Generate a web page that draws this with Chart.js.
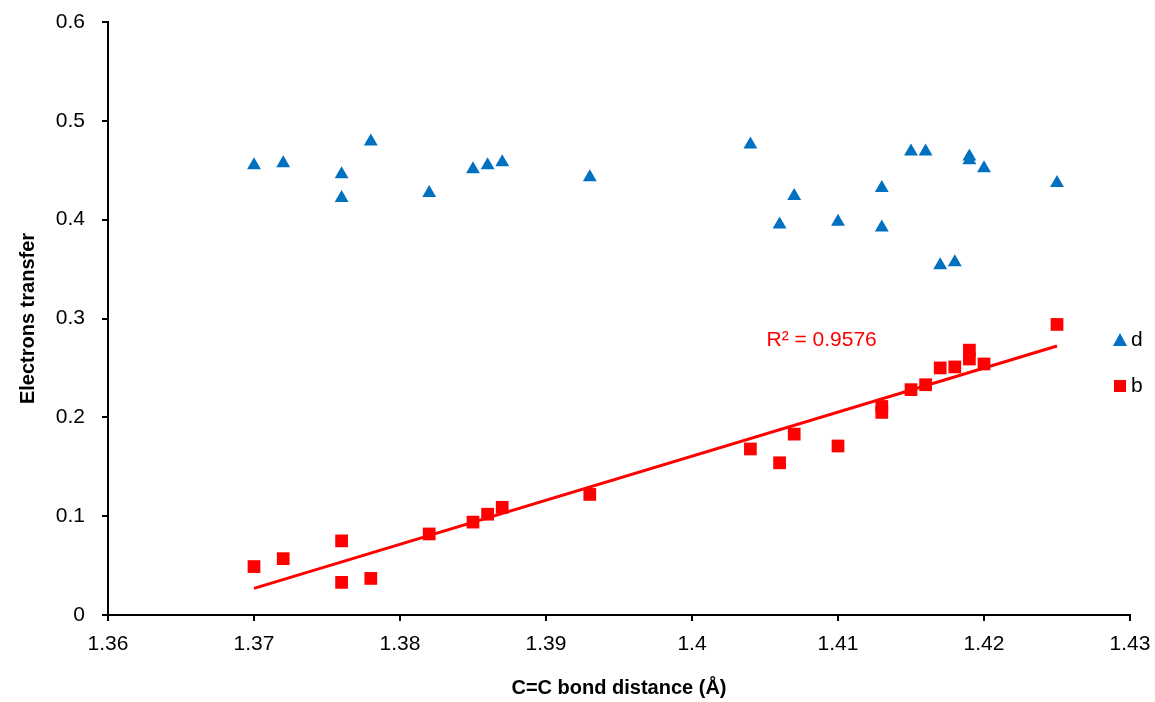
<!DOCTYPE html>
<html lang="en">
<head>
  <meta charset="UTF-8">
  <title>Electrons transfer vs C=C bond distance</title>
  <script src="https://cdn.jsdelivr.net/npm/chart.js"></script>
  <style>
    body {
      margin: 0;
      padding: 0;
      background: #fff;
    }
    #wrap {
      width: 1155px;
      height: 702px;
      position: relative;
    }
  </style>
</head>
<body>
  <div id="wrap">
    <canvas id="scatter"></canvas>
  </div>

  <script>
    // series d (triangles)
    const distD = [1.370, 1.372, 1.376, 1.376, 1.378, 1.382, 1.385, 1.386, 1.387, 1.393, 1.404, 1.406,
                   1.407, 1.410, 1.413, 1.413, 1.415, 1.416, 1.417, 1.418, 1.419, 1.419, 1.420, 1.425];
    const valD  = [0.455, 0.457, 0.446, 0.422, 0.479, 0.427, 0.451, 0.455, 0.458, 0.443, 0.476, 0.395,
                   0.424, 0.398, 0.432, 0.392, 0.469, 0.469, 0.354, 0.357, 0.464, 0.460, 0.452, 0.437];

    // series b (squares)
    const distB = [1.370, 1.372, 1.376, 1.376, 1.378, 1.382, 1.385, 1.386, 1.387, 1.393, 1.404, 1.406,
                   1.407, 1.410, 1.413, 1.413, 1.415, 1.416, 1.417, 1.418, 1.419, 1.419, 1.420, 1.425];
    const valB  = [0.049, 0.057, 0.075, 0.033, 0.037, 0.082, 0.094, 0.102, 0.109, 0.122, 0.168, 0.154,
                   0.183, 0.171, 0.211, 0.205, 0.228, 0.233, 0.250, 0.251, 0.268, 0.259, 0.254, 0.294];

    const xTicks = [1.36, 1.37, 1.38, 1.39, 1.40, 1.41, 1.42, 1.43];
    const yTicks = [0, 0.1, 0.2, 0.3, 0.4, 0.5, 0.6];
    const r2Label = 'R\u00b2 = 0.9576';

    // least squares line for series b
    function linearFit(xs, ys) {
      const n = xs.length;
      const mx = xs.reduce((a, b) => a + b, 0) / n;
      const my = ys.reduce((a, b) => a + b, 0) / n;
      let sxy = 0, sxx = 0;
      for (let i = 0; i < n; i++) {
        sxy += (xs[i] - mx) * (ys[i] - my);
        sxx += (xs[i] - mx) * (xs[i] - mx);
      }
      const slope = sxy / sxx;
      return { slope: slope, intercept: my - slope * mx };
    }
    const fit = linearFit(distB, valB);
    const xMin = Math.min(...distB), xMax = Math.max(...distB);
    const trendPts = [xMin, xMax].map(x => ({ x: x, y: fit.slope * x + fit.intercept }));

    const toPts = (xs, ys) => xs.map((x, i) => ({ x: x, y: ys[i] }));

    const FONT = "'Liberation Sans', Arial, sans-serif";

    // axis titles, R² text and the small legend on the right
    const extras = {
      id: 'extras',
      afterDraw(chart) {
        const c = chart.ctx;
        const area = chart.chartArea;
        const xs = chart.scales.x, ys = chart.scales.y;
        c.save();
        c.fillStyle = '#000';
        c.font = 'bold 20px ' + FONT;
        c.textAlign = 'center';
        c.textBaseline = 'middle';
        c.fillText('C=C bond distance (\u00c5)', (area.left + area.right) / 2, 688);
        c.save();
        c.translate(28, (area.top + area.bottom) / 2);
        c.rotate(-Math.PI / 2);
        c.fillText('Electrons transfer', 0, 0);
        c.restore();

        c.fillStyle = '#ff0000';
        c.font = '21px ' + FONT;
        c.textAlign = 'left';
        c.fillText(r2Label, xs.getPixelForValue(1.4051), ys.getPixelForValue(0.278));

        // legend
        c.font = '21px ' + FONT;
        c.fillStyle = '#0070c0';
        c.beginPath();
        c.moveTo(1120, 333);
        c.lineTo(1127, 346);
        c.lineTo(1113, 346);
        c.closePath();
        c.fill();
        c.fillStyle = '#ff0000';
        c.fillRect(1114, 380, 12, 12);
        c.fillStyle = '#000';
        c.fillText('d', 1131, 340);
        c.fillText('b', 1131, 386);
        c.restore();
      }
    };

    const ctx = document.getElementById('scatter').getContext('2d');
    const myChart = new Chart(ctx, {
      type: 'scatter',
      data: {
        datasets: [
          {
            label: 'd',
            data: toPts(distD, valD),
            pointStyle: 'triangle',
            pointRadius: 8,
            pointHoverRadius: 8,
            backgroundColor: '#0070c0',
            borderColor: '#0070c0',
            borderWidth: 0
          },
          {
            label: 'b',
            data: toPts(distB, valB),
            pointStyle: 'rect',
            pointRadius: 9,
            pointHoverRadius: 9,
            backgroundColor: '#ff0000',
            borderColor: '#ff0000',
            borderWidth: 0
          },
          {
            label: 'trend',
            type: 'line',
            data: trendPts,
            borderColor: '#ff0000',
            borderWidth: 3,
            pointRadius: 0,
            fill: false
          }
        ]
      },
      options: {
        responsive: true,
        maintainAspectRatio: false,
        animation: false,
        layout: { padding: { top: 22, right: 25, left: 0, bottom: 0 } },
        plugins: {
          legend: { display: false },
          tooltip: { enabled: false }
        },
        scales: {
          x: {
            type: 'linear',
            min: 1.36,
            max: 1.43,
            afterFit: s => { s.height = 87; s.paddingLeft = 0; s.paddingRight = 0; },
            afterBuildTicks: s => { s.ticks = xTicks.map(v => ({ value: v })); },
            grid: { drawOnChartArea: false, drawTicks: true, tickLength: 6, color: '#000', lineWidth: 2 },
            border: { color: '#000', width: 2 },
            ticks: {
              color: '#000',
              font: { family: FONT, size: 21 },
              padding: 11,
              maxRotation: 0,
              callback: v => String(Math.round(v * 100) / 100)
            }
          },
          y: {
            min: 0,
            max: 0.6,
            afterFit: s => { s.width = 108; s.paddingTop = 0; s.paddingBottom = 0; },
            afterBuildTicks: s => { s.ticks = yTicks.map(v => ({ value: v })); },
            grid: { drawOnChartArea: false, drawTicks: true, tickLength: 6, color: '#000', lineWidth: 2 },
            border: { color: '#000', width: 2 },
            ticks: {
              color: '#000',
              font: { family: FONT, size: 21 },
              padding: 17,
              callback: v => String(Math.round(v * 10) / 10)
            }
          }
        }
      },
      plugins: [extras]
    });
  </script>
</body>
</html>
